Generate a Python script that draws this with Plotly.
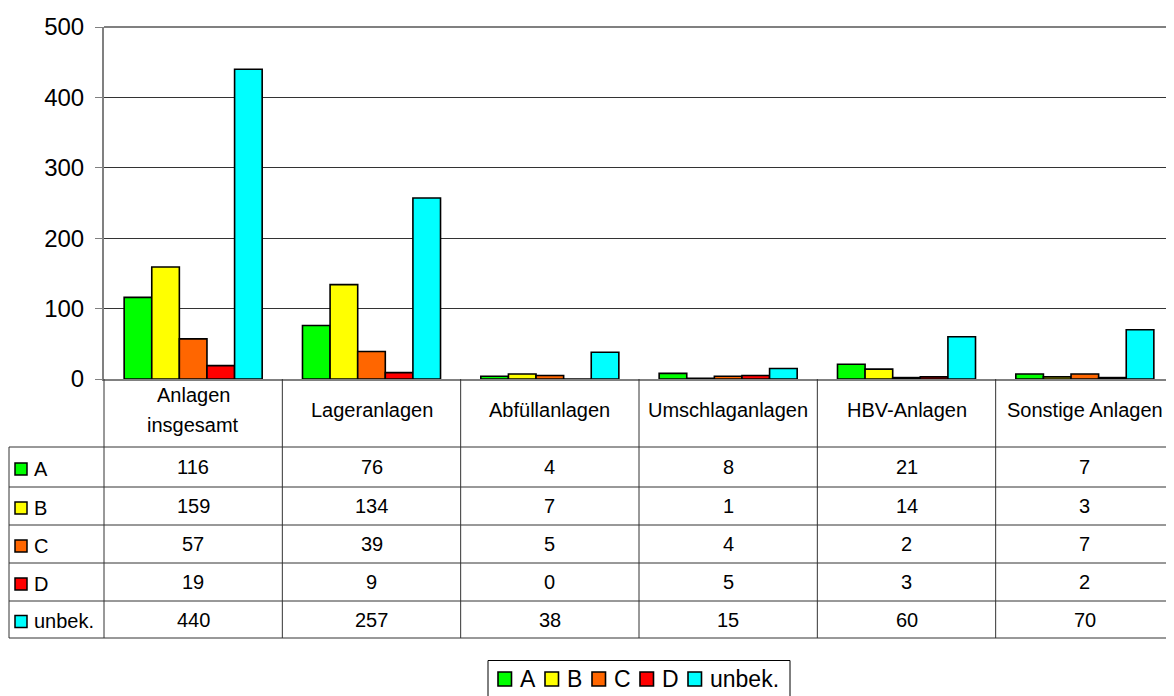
import plotly.graph_objects as go

categories = ["Anlagen<br>insgesamt", "Lageranlagen", "Abfüllanlagen",
              "Umschlaganlagen", "HBV-Anlagen", "Sonstige Anlagen"]
series_names = ["A", "B", "C", "D", "unbek."]
vals_A = [116, 76, 4, 8, 21, 7]
vals_B = [159, 134, 7, 1, 14, 3]
vals_C = [57, 39, 5, 4, 2, 7]
vals_D = [19, 9, 0, 5, 3, 2]
vals_unbek = [440, 257, 38, 15, 60, 70]
y_ticks = [0, 100, 200, 300, 400, 500]

series_values = [vals_A, vals_B, vals_C, vals_D, vals_unbek]
colors = ["#00FF00", "#FFFF00", "#FF6600", "#FF0000", "#00FFFF"]

# page offset of the default body margin
OFF = 8
W, H = 1174 - OFF, 696 - OFF
L, R, T, B = 104, 1174, 27, 379   # plot area in window pixels
FONT = "Liberation Sans, Arial, sans-serif"


def px(x):
    return (x - L) / (R - L)


def py(y):
    return (B - y) / (B - T)


fig = go.Figure()
xs = list(range(len(categories)))
for name, vals, col in zip(series_names, series_values, colors):
    fig.add_trace(go.Bar(
        x=xs, y=vals, name=name,
        marker=dict(color=col, line=dict(color="black", width=1.6)),
        showlegend=False, hoverinfo="y+name"))

shapes = []
annotations = []
grid_col = "#333333"

# top border of plot area
shapes.append(dict(type="line", xref="paper", yref="paper", x0=0, x1=1,
                   y0=1, y1=1, line=dict(color="#808080", width=2)))

# table lines
row_lines = [447, 487, 525, 563, 601, 638]
for yy in row_lines:
    shapes.append(dict(type="line", xref="paper", yref="paper",
                       x0=px(9), x1=1, y0=py(yy), y1=py(yy),
                       line=dict(color=grid_col, width=1)))
shapes.append(dict(type="line", xref="paper", yref="paper",
                   x0=px(9), x1=px(9), y0=py(447), y1=py(638),
                   line=dict(color=grid_col, width=1)))
n = len(categories)
for k in range(0, n):
    shapes.append(dict(type="line", xref="paper", yref="paper",
                       x0=k / n, x1=k / n, y0=py(B), y1=py(638),
                       line=dict(color=grid_col, width=1)))

# header row (multi-line labels placed line by line, 30px apart)
for i, cat in enumerate(categories):
    parts = cat.split("<br>")
    first = 410 - 15 * (len(parts) - 1)
    for k, part in enumerate(parts):
        annotations.append(dict(x=i, xref="x", y=py(first + 30 * k), yref="paper",
                                text=part, showarrow=False, xanchor="center",
                                yanchor="middle",
                                font=dict(family=FONT, size=20, color="black")))

# data rows
row_mids = [(row_lines[j] + row_lines[j + 1]) / 2 for j in range(5)]
for j, (name, vals, col) in enumerate(zip(series_names, series_values, colors)):
    ym = row_mids[j]
    shapes.append(dict(type="rect", xref="paper", yref="paper",
                       x0=px(15), x1=px(27), y0=py(ym - 4), y1=py(ym + 8),
                       fillcolor=col, line=dict(color="black", width=1.5)))
    annotations.append(dict(x=px(32), xref="paper", y=py(ym + 1.5), yref="paper",
                            text=name, showarrow=False, xanchor="left",
                            yanchor="middle",
                            font=dict(family=FONT, size=20, color="black")))
    for i, v in enumerate(vals):
        annotations.append(dict(x=i, xref="x", y=py(ym), yref="paper",
                                text=str(v), showarrow=False, xanchor="center",
                                yanchor="middle",
                                font=dict(family=FONT, size=20, color="black")))

# legend box (manual)
shapes.append(dict(type="rect", xref="paper", yref="paper",
                   x0=px(488), x1=px(790), y0=py(660.5), y1=py(710),
                   line=dict(color="black", width=1), fillcolor="rgba(0,0,0,0)"))
leg_sq_x = [498, 545, 592, 640, 688]
leg_y = 679
for name, col, sx in zip(series_names, colors, leg_sq_x):
    shapes.append(dict(type="rect", xref="paper", yref="paper",
                       x0=px(sx), x1=px(sx + 13.5), y0=py(leg_y - 7), y1=py(leg_y + 7),
                       fillcolor=col, line=dict(color="black", width=1.6)))
    annotations.append(dict(x=px(sx + 20), xref="paper", y=py(leg_y), yref="paper",
                            text=name, showarrow=False, xanchor="left",
                            yanchor="middle",
                            font=dict(family=FONT, size=23, color="black")))

fig.update_layout(
    width=W, height=H,
    margin=dict(l=L - OFF, r=(W + OFF) - R, t=T - OFF, b=(H + OFF) - B, pad=0),
    paper_bgcolor="white", plot_bgcolor="white",
    barmode="group", bargap=0.226, bargroupgap=0,
    showlegend=False,
    shapes=shapes, annotations=annotations,
    font=dict(family=FONT, color="black"),
    xaxis=dict(type="linear", range=[-0.5, n - 0.5], showticklabels=False,
               showgrid=False, zeroline=False, showline=True,
               linecolor="#808080", linewidth=2, ticks=""),
    yaxis=dict(range=[0, 500], tickvals=y_ticks, showgrid=True,
               gridcolor=grid_col, gridwidth=1, zeroline=False,
               showline=True, linecolor="#808080", linewidth=2,
               ticks="outside", ticklen=7, tickcolor="#808080", tickwidth=1,
               tickfont=dict(family=FONT, size=24, color="black"),
               ticklabelstandoff=6),
)

fig.write_html("out.html")
